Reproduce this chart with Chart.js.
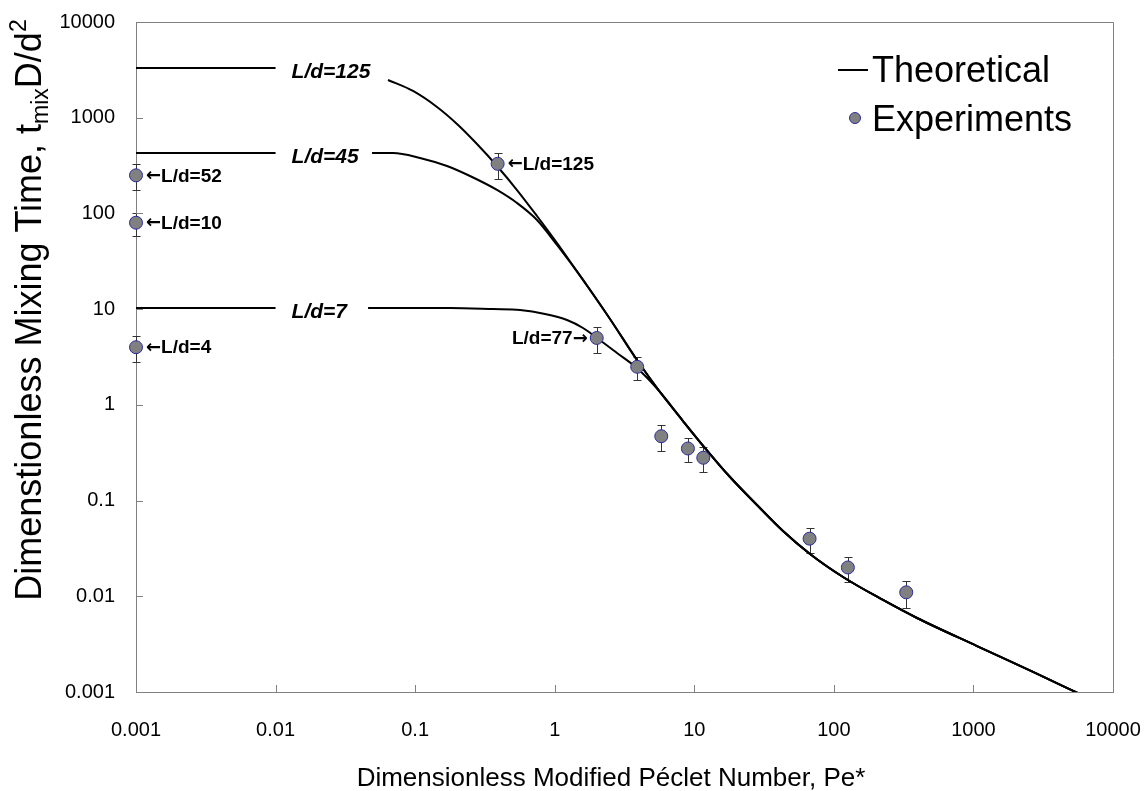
<!DOCTYPE html>
<html>
<head>
<meta charset="utf-8">
<script src="https://cdn.jsdelivr.net/npm/chart.js@4.4.0/dist/chart.umd.min.js"></script>
<style>
  body { margin: 0; background: #fff; }
</style>
</head>
<body>
<canvas id="myChart" width="1147" height="791"></canvas>
<script>
// tick values (decades only)
const xTicks = [0.001, 0.01, 0.1, 1, 10, 100, 1000, 10000];
const yTicks = [0.001, 0.01, 0.1, 1, 10, 100, 1000, 10000];

// theoretical curves (null = gap for the label)
const curve125X = [0.001, 0.01, 0.02, 0.0639, 0.0965, 0.1434, 0.1995, 0.2774, 0.3859, 0.5369, 0.7466, 1.039, 1.595, 2.49, 3.887];
const curve125Y = [3300, 3300, null, 2479, 1902, 1294, 860, 531, 313, 175.7, 94.0, 49.1, 20.2, 7.89, 2.94];

const curve45X = [0.001, 0.01, 0.02, 0.0491, 0.0694, 0.1083, 0.1691, 0.2471, 0.3859, 0.5369, 0.7466, 1.039, 1.595, 2.49, 3.887];
const curve45Y = [428, 428, null, 428, 428, 380, 313, 246, 176, 128.5, 85.4, 46.8, 20.2, 7.89, 2.94];

const curve7X = [0.001, 0.01, 0.02, 0.046, 0.1777, 0.3613, 0.5642, 0.8522, 1.225, 1.595, 2.009, 2.794, 3.952];
const curve7Y = [10.3, 10.3, null, 10.3, 10.3, 10.03, 9.80, 8.90, 7.70, 6.35, 4.99, 3.48, 2.37];

// common tail of all three curves
const tailX = [5.681, 8.302, 11.94, 18.03, 28.14, 43.22, 67.47, 116.3, 225, 394.3, 1061, 2673, 5998];
const tailY = [1.362, 0.678, 0.354, 0.1763, 0.0899, 0.0481, 0.02765, 0.0159, 0.00915, 0.00593, 0.00302, 0.00162, 0.00093];

// experiments
const expX = [0.001, 0.001, 0.001, 0.39, 2, 3.9, 5.8, 9, 11.6, 67, 126, 330];
const expY = [250, 80, 4, 330, 5, 2.5, 0.47, 0.35, 0.28, 0.04, 0.02, 0.011];
const expErr = [75, 22, 1.2, 100, 1.5, 0.7, 0.14, 0.1, 0.08, 0.012, 0.006, 0.0035];

// point labels
const expLabels = ['L/d=52', 'L/d=10', 'L/d=4', 'L/d=125', 'L/d=77'];
const expLabelIdx = [0, 1, 2, 3, 4];
const expLabelSide = ['left', 'left', 'left', 'left', 'right'];
const curveLabels = ['L/d=125', 'L/d=45', 'L/d=7'];
const curveFlat = [3300, 428, 10.3];

const FONT = '"Liberation Sans", Arial, Helvetica, sans-serif';
const AXIS_GREY = '#808080';

function toPts(xs, ys) {
  return xs.map((x, i) => ({ x: x, y: ys[i] }));
}

function lineSet(xs, ys) {
  return {
    type: 'line',
    data: toPts(xs.concat(tailX), ys.concat(tailY)),
    borderColor: '#000',
    borderWidth: 2,
    pointRadius: 0,
    fill: false,
    spanGaps: false,
    cubicInterpolationMode: 'monotone'
  };
}

const decor = {
  id: 'decor',
  beforeDatasetsDraw(chart) {
    const ctx = chart.ctx, xs = chart.scales.x, ys = chart.scales.y;
    ctx.save();
    ctx.strokeStyle = '#333';
    ctx.lineWidth = 1;
    for (let i = 0; i < expX.length; i++) {
      const px = Math.round(xs.getPixelForValue(expX[i])) + 0.5;
      const top = Math.round(ys.getPixelForValue(expY[i] + expErr[i])) + 0.5;
      const bot = Math.round(ys.getPixelForValue(expY[i] - expErr[i])) + 0.5;
      ctx.beginPath();
      ctx.moveTo(px, top); ctx.lineTo(px, bot);
      ctx.moveTo(px - 4, top); ctx.lineTo(px + 4, top);
      ctx.moveTo(px - 4, bot); ctx.lineTo(px + 4, bot);
      ctx.stroke();
    }
    ctx.restore();
  },
  afterDraw(chart) {
    const ctx = chart.ctx, xs = chart.scales.x, ys = chart.scales.y;
    const a = chart.chartArea;
    ctx.save();
    // frame + inner tick marks
    ctx.strokeStyle = AXIS_GREY;
    ctx.lineWidth = 1;
    ctx.beginPath();
    ctx.moveTo(Math.round(a.left) + 0.5, Math.round(a.top) + 0.5);
    ctx.lineTo(Math.round(a.right) + 0.5, Math.round(a.top) + 0.5);
    ctx.lineTo(Math.round(a.right) + 0.5, Math.round(a.bottom) + 0.5);
    xTicks.forEach(v => {
      const px = Math.round(xs.getPixelForValue(v)) + 0.5;
      ctx.moveTo(px, a.bottom); ctx.lineTo(px, a.bottom - 7);
    });
    yTicks.forEach(v => {
      const py = Math.round(ys.getPixelForValue(v)) + 0.5;
      ctx.moveTo(a.left, py); ctx.lineTo(a.left + 7, py);
    });
    ctx.stroke();

    // curve labels
    ctx.fillStyle = '#000';
    ctx.font = 'italic bold 21px ' + FONT;
    ctx.textAlign = 'left';
    ctx.textBaseline = 'middle';
    curveLabels.forEach((t, i) => {
      ctx.fillText(t, xs.getPixelForValue(0.01) + 16, ys.getPixelForValue(curveFlat[i]) + 4);
    });

    // experiment labels with arrows
    const txtFont = 'bold 19px ' + FONT;
    const arrFont = 'bold 18px "DejaVu Sans", sans-serif';
    expLabels.forEach((t, k) => {
      const i = expLabelIdx[k];
      const px = xs.getPixelForValue(expX[i]);
      const py = ys.getPixelForValue(expY[i]) + 1;
      if (expLabelSide[k] === 'right') {
        ctx.textAlign = 'right';
        ctx.font = arrFont;
        ctx.fillText('\u2192', px - 9, py);
        const aw = ctx.measureText('\u2192').width;
        ctx.font = txtFont;
        ctx.fillText(t, px - 9 - aw, py);
      } else {
        ctx.textAlign = 'left';
        ctx.font = arrFont;
        ctx.fillText('\u2190', px + 10, py);
        const aw = ctx.measureText('\u2190').width;
        ctx.font = txtFont;
        ctx.fillText(t, px + 10 + aw, py);
      }
    });

    // legend
    ctx.strokeStyle = '#000';
    ctx.lineWidth = 2;
    ctx.beginPath();
    ctx.moveTo(838, 70); ctx.lineTo(868, 70);
    ctx.stroke();
    ctx.beginPath();
    ctx.arc(855, 118, 5.5, 0, Math.PI * 2);
    ctx.fillStyle = '#808080';
    ctx.fill();
    ctx.strokeStyle = '#2b2b9c';
    ctx.lineWidth = 1;
    ctx.stroke();
    ctx.fillStyle = '#000';
    ctx.font = '36px ' + FONT;
    ctx.textAlign = 'left';
    ctx.textBaseline = 'alphabetic';
    ctx.fillText('Theoretical', 872, 82);
    ctx.fillText('Experiments', 872, 131);

    // x title
    ctx.font = '26px ' + FONT;
    ctx.textAlign = 'center';
    ctx.fillText('Dimensionless Modified P\u00e9clet Number, Pe*', 611, 786);

    // y title with sub/superscript
    const big = '36px ' + FONT, small = '23px ' + FONT;
    const parts = [
      ['Dimenstionless Mixing Time, t', big, 0],
      ['mix', small, 7],
      ['D/d', big, 0],
      ['2', small, -15]
    ];
    let total = 0;
    parts.forEach(p => { ctx.font = p[1]; total += ctx.measureText(p[0]).width; });
    ctx.translate(41, 310);
    ctx.rotate(-Math.PI / 2);
    ctx.textAlign = 'left';
    let cx = -total / 2;
    parts.forEach(p => {
      ctx.font = p[1];
      ctx.fillText(p[0], cx, p[2]);
      cx += ctx.measureText(p[0]).width;
    });
    ctx.restore();
  }
};

const ctx = document.getElementById('myChart');
const myChart = new Chart(ctx, {
  type: 'scatter',
  data: {
    datasets: [
      {
        label: 'Experiments',
        data: toPts(expX, expY),
        pointRadius: 6.5,
        pointBackgroundColor: '#808080',
        pointBorderColor: '#2b2b9c',
        pointBorderWidth: 1,
        showLine: false,
        clip: false
      },
      lineSet(curve125X, curve125Y),
      lineSet(curve45X, curve45Y),
      lineSet(curve7X, curve7Y)
    ]
  },
  options: {
    responsive: false,
    animation: false,
    layout: { padding: { top: 22, right: 34, left: 0, bottom: 0 } },
    plugins: {
      legend: { display: false },
      tooltip: { enabled: false }
    },
    scales: {
      x: {
        type: 'logarithmic',
        min: 0.001,
        max: 10000,
        afterBuildTicks: s => { s.ticks = xTicks.map(v => ({ value: v })); },
        afterFit: s => {
          s.height = 99;
          s.paddingLeft = 0;
          s.paddingRight = 0;
        },
        grid: { display: false, drawTicks: false },
        border: { display: true, color: AXIS_GREY, width: 1 },
        ticks: {
          color: '#000',
          padding: 26,
          maxRotation: 0,
          font: { family: FONT, size: 20 },
          callback: v => String(v)
        }
      },
      y: {
        type: 'logarithmic',
        min: 0.001,
        max: 10000,
        afterBuildTicks: s => { s.ticks = yTicks.map(v => ({ value: v })); },
        afterFit: s => {
          s.width = 136;
          s.paddingTop = 0;
          s.paddingBottom = 0;
        },
        grid: { display: false, drawTicks: false },
        border: { display: true, color: AXIS_GREY, width: 1 },
        ticks: {
          color: '#000',
          padding: 21,
          font: { family: FONT, size: 20 },
          callback: v => String(v)
        }
      }
    }
  },
  plugins: [decor]
});
</script>
</body>
</html>
